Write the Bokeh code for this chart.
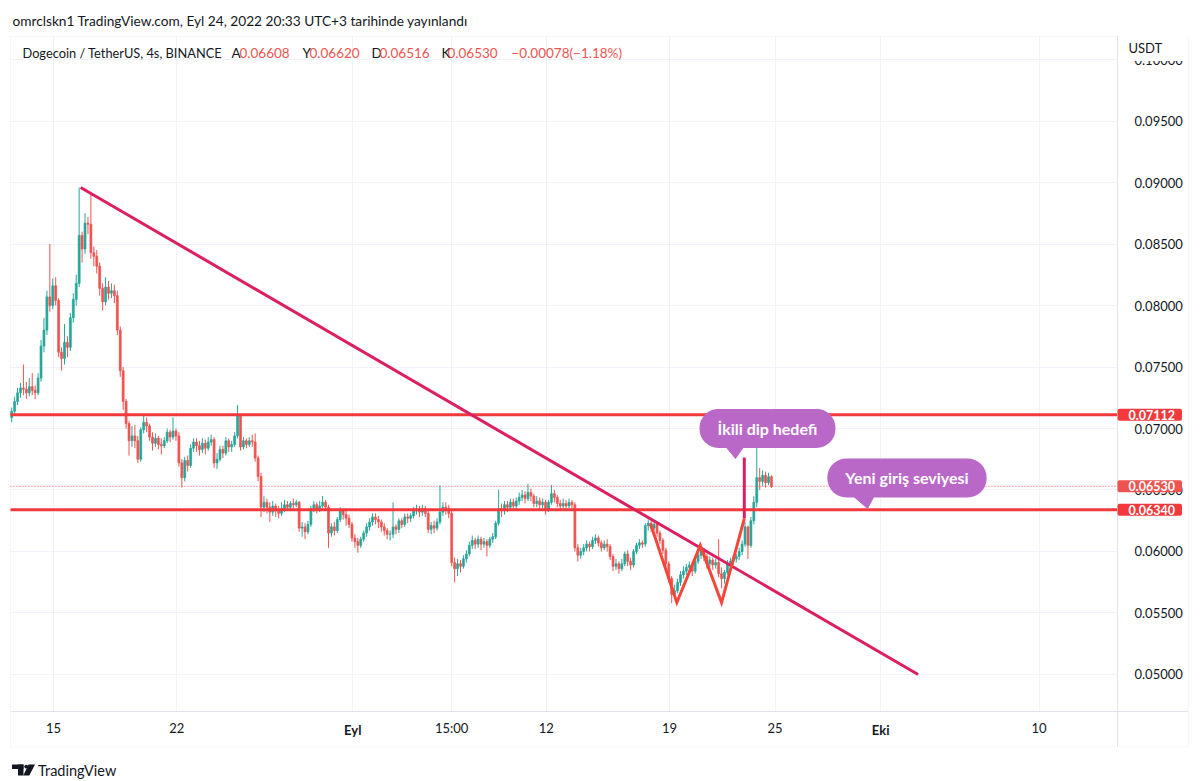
import pandas as pd
from bokeh.plotting import figure
from bokeh.models import (Label, FixedTicker, NumeralTickFormatter, Range1d,
                          BoxAnnotation, PolyAnnotation, ColumnDataSource)
from bokeh.embed import file_html
from bokeh.resources import INLINE

# ---------------------------------------------------------------- data
BASE = pd.Timestamp("2022-08-01")


def day(s):
    return (pd.Timestamp(s) - BASE) / pd.Timedelta(days=1)


FIRST_CANDLE = "2022-08-12 15:00"   # 4h candles (UTC+3)
FIRST_OPEN = 0.0709

CLOSE = [
    0.0714, 0.0722, 0.0729,                                 # Aug 12
    0.0733, 0.0732, 0.0729, 0.0734, 0.0731, 0.0729,         # Aug 13
    0.0741, 0.0767, 0.0780, 0.0807, 0.0800, 0.0816,         # Aug 14
    0.0804, 0.0762, 0.0757, 0.0770, 0.0766, 0.0790,         # Aug 15
    0.0805, 0.0818, 0.0857, 0.0846, 0.0867, 0.0866,         # Aug 16
    0.0843, 0.0840, 0.0832, 0.0814, 0.0803, 0.0815,         # Aug 17
    0.0810, 0.0812, 0.0808, 0.0780, 0.0747, 0.0722,         # Aug 18
    0.0704, 0.0690, 0.0694, 0.0690, 0.0675, 0.0699,         # Aug 19
    0.0705, 0.0702, 0.0693, 0.0688, 0.0692, 0.0687,         # Aug 20
    0.0686, 0.0690, 0.0697, 0.0693, 0.0698, 0.0694,         # Aug 21
    0.0672, 0.0660, 0.0674, 0.0670, 0.0684, 0.0689,         # Aug 22
    0.0686, 0.0683, 0.0688, 0.0684, 0.0689, 0.0691,         # Aug 23
    0.0672, 0.0675, 0.0683, 0.0680, 0.0690, 0.0685,         # Aug 24
    0.0687, 0.0694, 0.0711, 0.0685, 0.0690, 0.0687,         # Aug 25
    0.0690, 0.0689, 0.0676, 0.0661, 0.0636, 0.0640,         # Aug 26
    0.0636, 0.0632, 0.0637, 0.0633, 0.0631, 0.0635,         # Aug 27
    0.0638, 0.0636, 0.0639, 0.0638, 0.0640, 0.0619,         # Aug 28
    0.0620, 0.0616, 0.0622, 0.0635, 0.0638, 0.0634,         # Aug 29
    0.0637, 0.0640, 0.0636, 0.0615, 0.0620, 0.0617,         # Aug 30
    0.0626, 0.0633, 0.0630, 0.0627, 0.0622, 0.0611,         # Aug 31
    0.0608, 0.0605, 0.0610, 0.0615, 0.0620, 0.0624,         # Sep 1
    0.0628, 0.0626, 0.0624, 0.0620, 0.0617, 0.0614,         # Sep 2
    0.0614, 0.0620, 0.0618, 0.0625, 0.0622, 0.0628,         # Sep 3
    0.0627, 0.0629, 0.0633, 0.0634, 0.0632, 0.0635,         # Sep 4
    0.0631, 0.0618, 0.0621, 0.0619, 0.0624, 0.0632,         # Sep 5
    0.0636, 0.0635, 0.0631, 0.0591, 0.0586, 0.0590,         # Sep 6
    0.0588, 0.0594, 0.0598, 0.0605, 0.0609, 0.0606,         # Sep 7
    0.0610, 0.0606, 0.0608, 0.0605, 0.0610, 0.0612,         # Sep 8
    0.0623, 0.0635, 0.0633, 0.0638, 0.0636, 0.0640,         # Sep 9
    0.0637, 0.0641, 0.0644, 0.0646, 0.0643, 0.0648,         # Sep 10
    0.0645, 0.0639, 0.0641, 0.0638, 0.0640, 0.0634,         # Sep 11
    0.0640, 0.0647, 0.0644, 0.0639, 0.0637, 0.0639,         # Sep 12
    0.0637, 0.0640, 0.0638, 0.0603, 0.0597, 0.0600,         # Sep 13
    0.0603, 0.0606, 0.0604, 0.0609, 0.0611, 0.0607,         # Sep 14
    0.0603, 0.0606, 0.0604, 0.0596, 0.0588, 0.0590,         # Sep 15
    0.0586, 0.0590, 0.0598, 0.0592, 0.0589, 0.0600,         # Sep 16
    0.0605, 0.0607, 0.0606, 0.0621, 0.0623, 0.0619,         # Sep 17
    0.0622, 0.0615, 0.0609, 0.0601, 0.0590, 0.0578,         # Sep 18
    0.0565, 0.0568, 0.0575, 0.0581, 0.0584, 0.0587,         # Sep 19
    0.0589, 0.0584, 0.0592, 0.0597, 0.0602, 0.0596,         # Sep 20
    0.0590, 0.0593, 0.0589, 0.0591, 0.0582, 0.0578,         # Sep 21
    0.0583, 0.0590, 0.0592, 0.0594, 0.0596, 0.0600,         # Sep 22
    0.0606, 0.0620, 0.0605, 0.0625, 0.0640, 0.0660,         # Sep 23
    0.0657, 0.0662, 0.0656, 0.06608, 0.06530,               # Sep 24
]

HIGH = [
    0.0717, 0.0726, 0.0733,
    0.0737, 0.0752, 0.0738, 0.0741, 0.0745, 0.0735,
    0.0745, 0.0772, 0.0790, 0.0812, 0.0850, 0.0822,
    0.0823, 0.0806, 0.0766, 0.0785, 0.0775, 0.0794,
    0.0810, 0.0825, 0.0896, 0.0860, 0.0875, 0.0872,
    0.0891, 0.0848, 0.0845, 0.0835, 0.0818, 0.0823,
    0.0820, 0.0818, 0.0817, 0.0812, 0.0783, 0.0750,
    0.0724, 0.0706, 0.0702, 0.0703, 0.0694, 0.0701,
    0.0712, 0.0709, 0.0704, 0.0697, 0.0696, 0.0694,
    0.0692, 0.0693, 0.0700, 0.0699, 0.0709, 0.0700,
    0.0697, 0.0675, 0.0677, 0.0678, 0.0687, 0.0692,
    0.0692, 0.0690, 0.0692, 0.0691, 0.0693, 0.0695,
    0.0693, 0.0680, 0.0686, 0.0686, 0.0693, 0.0692,
    0.0690, 0.0697, 0.0719, 0.0712, 0.0693, 0.0692,
    0.0693, 0.0695, 0.0696, 0.0678, 0.0664, 0.0645,
    0.0643, 0.0640, 0.0641, 0.0639, 0.0637, 0.0640,
    0.0642, 0.0641, 0.0641, 0.0643, 0.0642, 0.0641,
    0.0624, 0.0623, 0.0625, 0.0637, 0.0641, 0.0640,
    0.0641, 0.0645, 0.0642, 0.0638, 0.0623, 0.0624,
    0.0628, 0.0636, 0.0635, 0.0633, 0.0630, 0.0624,
    0.0614, 0.0611, 0.0612, 0.0617, 0.0623, 0.0627,
    0.0631, 0.0631, 0.0629, 0.0626, 0.0623, 0.0619,
    0.0617, 0.0640, 0.0622, 0.0627, 0.0627, 0.0631,
    0.0631, 0.0631, 0.0636, 0.0638, 0.0637, 0.0638,
    0.0637, 0.0633, 0.0624, 0.0625, 0.0627, 0.0654,
    0.0640, 0.0640, 0.0638, 0.0634, 0.0595, 0.0594,
    0.0593, 0.0597, 0.0601, 0.0608, 0.0613, 0.0611,
    0.0613, 0.0612, 0.0611, 0.0610, 0.0612, 0.0615,
    0.0625, 0.0650, 0.0639, 0.0641, 0.0641, 0.0643,
    0.0643, 0.0644, 0.0648, 0.0650, 0.0649, 0.0655,
    0.0651, 0.0647, 0.0645, 0.0644, 0.0643, 0.0642,
    0.0642, 0.0654, 0.0650, 0.0646, 0.0642, 0.0643,
    0.0642, 0.0643, 0.0642, 0.0640, 0.0606, 0.0603,
    0.0606, 0.0609, 0.0608, 0.0612, 0.0614, 0.0613,
    0.0609, 0.0609, 0.0610, 0.0606, 0.0598, 0.0594,
    0.0592, 0.0594, 0.0600, 0.0601, 0.0595, 0.0602,
    0.0607, 0.0610, 0.0609, 0.0623, 0.0626, 0.0625,
    0.0625, 0.0624, 0.0617, 0.0611, 0.0603, 0.0592,
    0.0580, 0.0573, 0.0578, 0.0584, 0.0588, 0.0590,
    0.0592, 0.0591, 0.0594, 0.0599, 0.0604, 0.0603,
    0.0598, 0.0596, 0.0595, 0.0594, 0.0610, 0.0587,
    0.0585, 0.0593, 0.0595, 0.0597, 0.0598, 0.0603,
    0.0609, 0.0624, 0.0621, 0.0628, 0.0645, 0.0684,
    0.0668, 0.0666, 0.0665, 0.0664, 0.06620,
]

LOW = [
    0.0705, 0.0711, 0.0719,
    0.0725, 0.0727, 0.0724, 0.0726, 0.0727, 0.0724,
    0.0727, 0.0738, 0.0762, 0.0776, 0.0795, 0.0797,
    0.0800, 0.0758, 0.0747, 0.0752, 0.0758, 0.0763,
    0.0786, 0.0800, 0.0815, 0.0835, 0.0842, 0.0858,
    0.0838, 0.0832, 0.0826, 0.0808, 0.0796, 0.0800,
    0.0805, 0.0806, 0.0802, 0.0776, 0.0742, 0.0715,
    0.0700, 0.0678, 0.0685, 0.0684, 0.0672, 0.0673,
    0.0696, 0.0697, 0.0690, 0.0682, 0.0685, 0.0683,
    0.0679, 0.0684, 0.0688, 0.0689, 0.0691, 0.0690,
    0.0669, 0.0652, 0.0657, 0.0665, 0.0668, 0.0681,
    0.0681, 0.0678, 0.0680, 0.0679, 0.0682, 0.0686,
    0.0668, 0.0667, 0.0673, 0.0676, 0.0678, 0.0681,
    0.0681, 0.0685, 0.0692, 0.0682, 0.0683, 0.0684,
    0.0685, 0.0685, 0.0673, 0.0657, 0.0628, 0.0632,
    0.0631, 0.0624, 0.0629, 0.0628, 0.0627, 0.0629,
    0.0632, 0.0633, 0.0634, 0.0635, 0.0636, 0.0616,
    0.0612, 0.0610, 0.0614, 0.0620, 0.0632, 0.0631,
    0.0632, 0.0635, 0.0633, 0.0603, 0.0612, 0.0613,
    0.0615, 0.0624, 0.0626, 0.0621, 0.0619, 0.0608,
    0.0603, 0.0599, 0.0603, 0.0608, 0.0612, 0.0617,
    0.0621, 0.0622, 0.0619, 0.0616, 0.0613, 0.0610,
    0.0609, 0.0611, 0.0614, 0.0615, 0.0619, 0.0620,
    0.0623, 0.0624, 0.0627, 0.0630, 0.0628, 0.0629,
    0.0628, 0.0615, 0.0614, 0.0615, 0.0617, 0.0622,
    0.0629, 0.0630, 0.0627, 0.0588, 0.0575, 0.0580,
    0.0583, 0.0586, 0.0591, 0.0596, 0.0602, 0.0602,
    0.0603, 0.0601, 0.0603, 0.0596, 0.0603, 0.0607,
    0.0610, 0.0621, 0.0628, 0.0630, 0.0632, 0.0633,
    0.0633, 0.0634, 0.0638, 0.0641, 0.0639, 0.0641,
    0.0641, 0.0636, 0.0636, 0.0634, 0.0635, 0.0630,
    0.0632, 0.0638, 0.0640, 0.0636, 0.0633, 0.0634,
    0.0633, 0.0635, 0.0634, 0.0600, 0.0592, 0.0594,
    0.0597, 0.0600, 0.0600, 0.0602, 0.0606, 0.0604,
    0.0600, 0.0601, 0.0600, 0.0593, 0.0584, 0.0585,
    0.0582, 0.0584, 0.0588, 0.0588, 0.0585, 0.0587,
    0.0598, 0.0602, 0.0603, 0.0604, 0.0617, 0.0616,
    0.0617, 0.0612, 0.0606, 0.0598, 0.0587, 0.0575,
    0.0558, 0.0562, 0.0566, 0.0572, 0.0578, 0.0581,
    0.0584, 0.0580, 0.0582, 0.0590, 0.0594, 0.0592,
    0.0586, 0.0587, 0.0585, 0.0586, 0.0579, 0.0570,
    0.0574, 0.0581, 0.0587, 0.0589, 0.0591, 0.0593,
    0.0597, 0.0604, 0.0594, 0.0603, 0.0622, 0.0636,
    0.0650, 0.0653, 0.0652, 0.0654, 0.06516,
]

# horizontal levels drawn by the author
LEVELS = [0.07112, 0.06340]
LAST_PRICE = 0.06530

# falling trend line (time, price)
TREND_T = ["2022-08-16 13:00", "2022-10-03 03:00"]
TREND_P = [0.0896, 0.0500]

# double-bottom "W" drawing
W_T = ["2022-09-17 22:00", "2022-09-19 10:00", "2022-09-20 18:00",
       "2022-09-21 23:00", "2022-09-23 06:00"]
W_P = [0.06228, 0.05585, 0.06049, 0.05585, 0.06268]

# target height line
TARGET_T = ["2022-09-23 06:00", "2022-09-23 06:00"]
TARGET_P = [0.06268, 0.06764]

# callouts: text, centre (time, price), tail triangle (times, prices)
CALLOUTS = [
    ("İkili dip hedefi", "2022-09-24 13:38", 0.07001,
     ["2022-09-22 00:15", "2022-09-23 09:00", "2022-09-22 18:00"],
     [0.06885, 0.06885, 0.06756]),
    ("Yeni giriş seviyesi", "2022-10-02 11:50", 0.06598,
     ["2022-09-29 06:50", "2022-09-30 16:55", "2022-09-30 06:00"],
     [0.06470, 0.06470, 0.06350]),
]

X_TICKS = ["2022-08-15", "2022-08-22", "2022-09-01", "2022-09-06 15:00",
           "2022-09-12", "2022-09-19", "2022-09-25", "2022-10-01", "2022-10-10"]
X_TICK_LABELS = ["15", "22", "Eyl", "15:00", "12", "19", "25", "Eki", "10"]
X_BOLD = ["Eyl", "Eki"]
Y_TICKS = [0.050, 0.055, 0.060, 0.065, 0.070, 0.075, 0.080, 0.085, 0.090, 0.095, 0.100]

# whole picture window, chart box and the edges of the two scales
X_VIEW = ("2022-08-11 23:44", "2022-10-18 14:27")
Y_VIEW = (0.04138, 0.10480)
BOX_T = ("2022-08-12 13:22", "2022-10-18 11:45")
BOX_P = (0.04411, 0.10187)
SCALE_EDGE_T = "2022-10-14 10:55"   # where the price scale starts
SCALE_EDGE_P = 0.04699              # where the time scale starts

HEADER = "omrclskn1 TradingView.com, Eyl 24, 2022 20:33 UTC+3 tarihinde yayınlandı"
SYMBOL = "Dogecoin / TetherUS, 4s, BINANCE"

# ---------------------------------------------------------------- style
FONT = "Lato"
TXT = "#131722"
UP = "#26a69a"
DOWN = "#ef5350"
LEVEL_RED = "#f23a3c"
TREND_PINK = "#dc1f62"
W_RED = "#f4473a"
BUBBLE = "#ba68c8"
GRID = "#f0f3fa"
BORDER = "#e0e3eb"

W_PX, H_PX = 1190, 780


def sy(page_y):          # page pixel row -> screen units of the frame
    return H_PX - page_y


# ---------------------------------------------------------------- build
times = pd.date_range(FIRST_CANDLE, periods=len(CLOSE), freq="4h")
xs = [day(t) for t in times]
opens = [FIRST_OPEN] + CLOSE[:-1]
colors = [UP if c >= o else DOWN for o, c in zip(opens, CLOSE)]
tops = [max(o, c) for o, c in zip(opens, CLOSE)]
bots = [min(o, c) for o, c in zip(opens, CLOSE)]

src = ColumnDataSource(dict(x=xs, top=tops, bottom=bots, high=HIGH, low=LOW, color=colors))

x_edge = day(SCALE_EDGE_T)
bx0, bx1 = day(BOX_T[0]), day(BOX_T[1])

p = figure(width=W_PX, height=H_PX,
           x_range=Range1d(day(X_VIEW[0]), day(X_VIEW[1])),
           y_range=Range1d(*Y_VIEW),
           y_axis_location="right",
           output_backend="svg", toolbar_location=None,
           min_border_left=0, min_border_right=0,
           min_border_top=0, min_border_bottom=0)
p.title.visible = False
p.background_fill_color = "white"
p.border_fill_color = "white"
p.outline_line_color = None

# grid
xt = [day(t) for t in X_TICKS]
p.xaxis.ticker = FixedTicker(ticks=xt)
p.xgrid.ticker = FixedTicker(ticks=xt)
p.yaxis.ticker = FixedTicker(ticks=Y_TICKS)
p.xgrid.grid_line_color = GRID
p.ygrid.grid_line_color = GRID

# keep the grid inside the plotting pane
for kw in (dict(left=x_edge), dict(right=bx0), dict(top=SCALE_EDGE_P), dict(bottom=BOX_P[1])):
    p.add_layout(BoxAnnotation(fill_color="white", fill_alpha=1, line_alpha=0,
                               level="underlay", **kw))
# chart box
p.add_layout(BoxAnnotation(left=bx0, right=bx1, bottom=BOX_P[0], top=BOX_P[1],
                           fill_alpha=0, line_color=BORDER, line_width=1, level="underlay"))

# axes drawn on the scale edges
p.yaxis.fixed_location = x_edge
p.xaxis.fixed_location = SCALE_EDGE_P
p.yaxis.bounds = BOX_P
p.xaxis.bounds = (bx0, bx1)
p.xaxis.major_label_overrides = {t: ("" if l in X_BOLD else l) for t, l in zip(xt, X_TICK_LABELS)}
p.yaxis.formatter = NumeralTickFormatter(format="0.00000")
for ax in (p.xaxis, p.yaxis):
    ax.axis_line_color = BORDER
    ax.major_tick_line_color = None
    ax.minor_tick_line_color = None
    ax.major_label_text_font = FONT
    ax.major_label_text_font_size = "13px"
    ax.major_label_text_color = TXT
p.xaxis.major_label_standoff = 2
p.yaxis.major_label_standoff = 11

for t, l in zip(xt, X_TICK_LABELS):
    if l in X_BOLD:
        p.add_layout(Label(x=t, y=sy(729), y_units="screen", text=l, text_font=FONT,
                           text_font_size="13px", text_font_style="bold", text_color=TXT,
                           text_align="center", text_baseline="middle"))

# candles
p.segment(x0="x", y0="low", x1="x", y1="high", source=src, line_color="color", line_width=1)
p.vbar(x="x", width=0.11, top="top", bottom="bottom", source=src,
       fill_color="color", line_color="color", line_width=0.7)

# levels (end at the price scale)
p.segment(x0=[bx0] * len(LEVELS), y0=LEVELS, x1=[x_edge] * len(LEVELS), y1=LEVELS,
          line_color=LEVEL_RED, line_width=3)
p.segment(x0=[bx0], y0=[LAST_PRICE], x1=[x_edge], y1=[LAST_PRICE],
          line_color=DOWN, line_width=1, line_dash="1 2")

# drawings
p.line([day(t) for t in TREND_T], TREND_P, line_color=TREND_PINK, line_width=3)
p.line([day(t) for t in W_T], W_P, line_color=W_RED, line_width=3, line_join="miter")
p.line([day(t) for t in TARGET_T], TARGET_P, line_color=TREND_PINK, line_width=3)

for text, ct, cp, tail_t, tail_p in CALLOUTS:
    p.patch([day(t) for t in tail_t], tail_p, fill_color=BUBBLE, line_color=BUBBLE)
    p.add_layout(Label(x=day(ct), y=cp, text=text, text_font=FONT, text_font_size="16px",
                       text_font_style="bold", text_color="white",
                       text_align="center", text_baseline="middle",
                       background_fill_color=BUBBLE, border_radius=19,
                       padding=dict(left=18, right=18, top=10, bottom=10)))

# price scale tags
for val, col in [(LEVELS[0], LEVEL_RED), (LAST_PRICE, DOWN), (LEVELS[1], LEVEL_RED)]:
    p.add_layout(Label(x=x_edge, y=val, text=f"{val:.5f}",
                       text_font=FONT, text_font_size="12.5px", text_font_style="bold",
                       text_color="white", text_align="left", text_baseline="middle",
                       background_fill_color=col, border_radius=2,
                       padding=dict(left=11, right=7, top=1, bottom=1), level="overlay"))

p.add_layout(Label(x=x_edge, y=sy(46), x_offset=1, y_units="screen", text="USDT",
                   text_font=FONT, text_font_size="13px", text_color=TXT,
                   text_align="left", text_baseline="middle",
                   background_fill_color="white",
                   padding=dict(left=10, right=24, top=8, bottom=5), level="overlay"))

# header
p.add_layout(Label(x=12, y=sy(19.5), x_units="screen", y_units="screen", text=HEADER,
                   text_font=FONT, text_font_size="13.7px", text_color=TXT,
                   text_baseline="middle"))

# legend line
o, h, l, c = opens[-1], HIGH[-1], LOW[-1], CLOSE[-1]
chg = c - o
sign = "\u2212" if chg < 0 else "+"
legend = [
    (SYMBOL, 22, TXT, "12.8px"),
    ("A", 231, TXT, "13.5px"), (f"{o:.5f}", 239, DOWN, "13.5px"),
    ("Y", 302, TXT, "13.5px"), (f"{h:.5f}", 309, DOWN, "13.5px"),
    ("D", 371, TXT, "13.5px"), (f"{l:.5f}", 379, DOWN, "13.5px"),
    ("K", 441, TXT, "13.5px"), (f"{c:.5f}", 447, DOWN, "13.5px"),
    (f"{sign}{abs(chg):.5f}", 511, DOWN, "13.5px"),
    (f"({sign}{abs(chg) / o * 100:.2f}%)", 569, DOWN, "13.5px"),
]
for text, px, col, size in legend:
    p.add_layout(Label(x=px, y=sy(52), x_units="screen", y_units="screen", text=text,
                       text_font=FONT, text_font_size=size, text_color=col,
                       text_baseline="middle"))

# footer: logo mark + wordmark
scr = dict(left_units="screen", right_units="screen", top_units="screen", bottom_units="screen",
           fill_color=TXT, fill_alpha=1, line_alpha=0, level="overlay")
p.add_layout(BoxAnnotation(left=11.5, right=23, top=sy(764), bottom=sy(768.5), **scr))
p.add_layout(BoxAnnotation(left=17.5, right=23, top=sy(764), bottom=sy(775), **scr))
p.add_layout(BoxAnnotation(left=23.8, right=27.6, top=sy(764.2), bottom=sy(768), border_radius=2, **scr))
p.add_layout(PolyAnnotation(xs=[28.0, 34.5, 28.8, 22.8], ys=[sy(764), sy(764), sy(775), sy(775)],
                            xs_units="screen", ys_units="screen",
                            fill_color=TXT, fill_alpha=1, line_alpha=0, level="overlay"))
p.add_layout(Label(x=37.5, y=sy(770), x_units="screen", y_units="screen", text="TradingView",
                   text_font=FONT, text_font_size="14.5px", text_color=TXT,
                   text_baseline="middle"))

open("out.html", "w").write(file_html(p, INLINE))
